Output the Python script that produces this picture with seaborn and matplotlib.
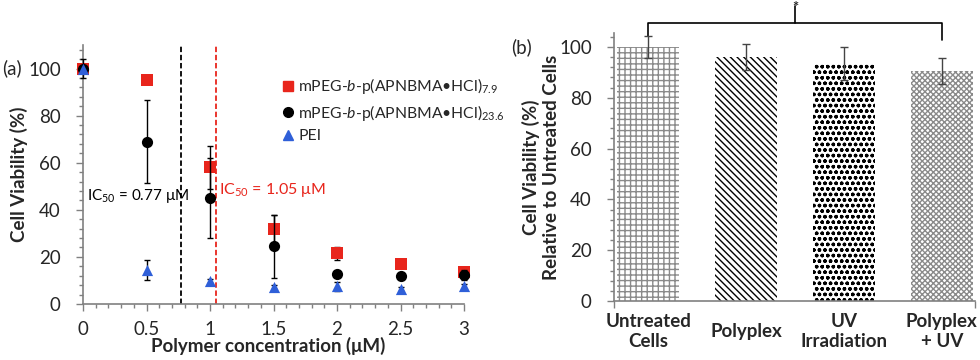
import numpy as np
import pandas as pd
import matplotlib
matplotlib.use("Agg")
import matplotlib.pyplot as plt
import seaborn as sns
from matplotlib.ticker import MultipleLocator, FixedLocator
from matplotlib.lines import Line2D

# --- (a) cell viability vs polymer concentration ---
conc = [0, 0.5, 1, 1.5, 2, 2.5, 3]
via_79 = [100, 95, 58, 32, 21.5, 17, 13.5]
err_79 = [0, 0, 9, 6, 2.7, 1, 2]
via_236 = [100, 69, 45, 24.5, 12.7, 12, 12.4]
err_236 = [4, 17.5, 17, 13.5, 1, 0.8, 2]
via_pei = [100, 14.5, 9.8, 7.3, 7.5, 6.5, 7.5]
err_pei = [1, 4.3, 1, 0.8, 2, 0.8, 1]
ic50_a = 0.77
ic50_b = 1.05

# --- (b) viability relative to untreated cells ---
groups = ["Untreated\nCells", "Polyplex", "UV\nIrradiation", "Polyplex\n+ UV"]
rel_via = [100, 96, 93.5, 90.5]
rel_err = [4.5, 5, 6.5, 5]

sns.set_theme(style="white")
plt.rcParams['font.family'] = ['Lato', 'DejaVu Sans']
plt.rcParams['mathtext.fontset'] = 'custom'
plt.rcParams['mathtext.rm'] = 'Lato'
plt.rcParams['mathtext.it'] = 'Lato:italic'
plt.rcParams['mathtext.bf'] = 'Lato:bold'
plt.rcParams['hatch.linewidth'] = 1.0

fig = plt.figure(figsize=(9.8, 3.6), dpi=100)
ax1 = fig.add_axes([83/980, 1-304/360, 381/980, 259/360])
ax2 = fig.add_axes([614/980, 1-301/360, 361/980, 268/360])

axis_grey = '#808080'
fs = 13.5

# ---- panel (a) ----
series = [
    (via_79, err_79, 's', '#E8251C', r'mPEG-$\mathit{b}$-p(APNBMA•HCl)$_{7.9}$'),
    (via_236, err_236, 'o', 'black', r'mPEG-$\mathit{b}$-p(APNBMA•HCl)$_{23.6}$'),
    (via_pei, err_pei, '^', '#2F5FD8', 'PEI'),
]
handles = []
for k, (vals, errs, mk, col, lab) in enumerate(series):
    ax1.errorbar(conc, vals, yerr=errs, fmt='none', ecolor='black', elinewidth=1.0,
                 capsize=2, capthick=1.0, zorder=2 + k, clip_on=False)
    sns.scatterplot(x=conc, y=vals, marker=mk, color=col, s=65, edgecolor=col,
                    linewidth=0, ax=ax1, zorder=3 + k, clip_on=False, legend=False)
    handles.append(Line2D([], [], marker=mk, color=col, linestyle='none', markersize=7))

ax1.axvline(ic50_a, color='black', linestyle=(0, (3, 1.5)), linewidth=1.3, zorder=1)
ax1.axvline(ic50_b, color='#E8251C', linestyle=(0, (3, 1.5)), linewidth=1.3, zorder=1)
ax1.text(0.03, 46, r'IC$_{50}$ = 0.77 μM', fontsize=11, color='black', va='center', ha='left')
ax1.text(ic50_b + 0.02, 48.5, r'IC$_{50}$ = 1.05 μM', fontsize=11.5, color='#E8251C', va='center', ha='left')

ax1.set_xlim(0, 3)
ax1.set_ylim(0, 110)
ax1.xaxis.set_major_locator(FixedLocator([0, 0.5, 1, 1.5, 2, 2.5, 3]))
ax1.set_xticklabels(['0', '0.5', '1', '1.5', '2', '2.5', '3'])
ax1.xaxis.set_minor_locator(MultipleLocator(0.1))
ax1.yaxis.set_major_locator(FixedLocator([0, 20, 40, 60, 80, 100]))
ax1.yaxis.set_minor_locator(MultipleLocator(4))
ax1.tick_params(axis='both', which='major', direction='out', length=5, width=1,
                color=axis_grey, labelsize=fs, bottom=True, left=True)
ax1.tick_params(axis='both', which='minor', direction='out', length=3, width=1,
                color=axis_grey, bottom=True, left=True)
ax1.tick_params(axis='x', which='major', pad=7)
ax1.tick_params(axis='y', which='major', pad=11)
for sp in ['top', 'right']:
    ax1.spines[sp].set_visible(False)
for sp in ['left', 'bottom']:
    ax1.spines[sp].set_color(axis_grey)
    ax1.spines[sp].set_linewidth(1.2)
ax1.set_xlabel('Polymer concentration (μM)', fontsize=fs, fontweight='bold')
ax1.set_ylabel('Cell Viability (%)', fontsize=fs, fontweight='bold')
ax1.xaxis.set_label_coords(0.486, -0.128)
ax1.yaxis.set_label_coords(-0.145, 0.5)
fig.text(2/980, 1-68/360, '(a)', fontsize=fs, va='center', ha='left')

fig.legend(handles, [s[4] for s in series], loc='upper left',
           bbox_to_anchor=(274/980, 1-70/360), frameon=False, fontsize=11.3,
           handletextpad=0.15, labelspacing=0.42, handlelength=1.0, borderaxespad=0)

# ---- panel (b) ----
df_b = pd.DataFrame({'group': groups, 'viability': rel_via})
sns.barplot(data=df_b, x='group', y='viability', color='white', width=0.633,
            errorbar=None, ax=ax2, zorder=2)
hatches = ['+++', '\\\\\\\\\\', 'ooo...', 'xxxxxx']
hcols = ['#8a8a8a', 'black', 'black', '#8a8a8a']
for patch, h, hc in zip(ax2.patches, hatches, hcols):
    patch.set_hatch(h)
    patch.set_edgecolor(hc)
    patch.set_facecolor('white')
    patch.set_linewidth(0)
ax2.errorbar(range(len(groups)), rel_via, yerr=rel_err, fmt='none', ecolor='#444444',
             elinewidth=1.0, capsize=3, capthick=1.0, zorder=4)

# significance bracket
ax2.plot([0, 0, 3, 3], [104.5, 109.3, 109.3, 102.7], color='black', lw=1.2, clip_on=False)
ax2.plot([1.5, 1.5], [109.3, 116.0], color='black', lw=1.2, clip_on=False)
ax2.text(1.5, 115.2, '*', ha='center', va='center', fontsize=10.5, fontweight='bold')

ax2.set_xlim(-0.35, 3.34)
ax2.set_ylim(0, 105.5)
ax2.yaxis.set_major_locator(FixedLocator([0, 20, 40, 60, 80, 100]))
ax2.yaxis.set_minor_locator(MultipleLocator(4))
ax2.xaxis.set_minor_locator(FixedLocator([-0.35, 3.34]))
ax2.tick_params(axis='y', which='major', direction='out', length=5, width=1,
                color=axis_grey, labelsize=fs, left=True, pad=11)
ax2.tick_params(axis='y', which='minor', direction='out', length=3, width=1,
                color=axis_grey, left=True)
ax2.tick_params(axis='x', which='major', length=0, pad=22)
ax2.tick_params(axis='x', which='minor', direction='out', length=5, width=1,
                color=axis_grey, bottom=True)
ax2.set_xticks(range(len(groups)))
ax2.set_xticklabels(groups, fontsize=fs, fontweight='bold', va='center', linespacing=1.2)
for sp in ['top', 'right']:
    ax2.spines[sp].set_visible(False)
for sp in ['left', 'bottom']:
    ax2.spines[sp].set_color(axis_grey)
    ax2.spines[sp].set_linewidth(1.2)
ax2.set_xlabel('')
ax2.set_ylabel('Cell Viability (%)\nRelative to Untreated Cells', fontsize=fs,
               fontweight='bold', linespacing=1.2)
ax2.yaxis.set_label_coords(-0.15, 0.5)
fig.text(511/980, 1-47/360, '(b)', fontsize=fs, va='center', ha='left')

fig.savefig('out.png', dpi=100)
